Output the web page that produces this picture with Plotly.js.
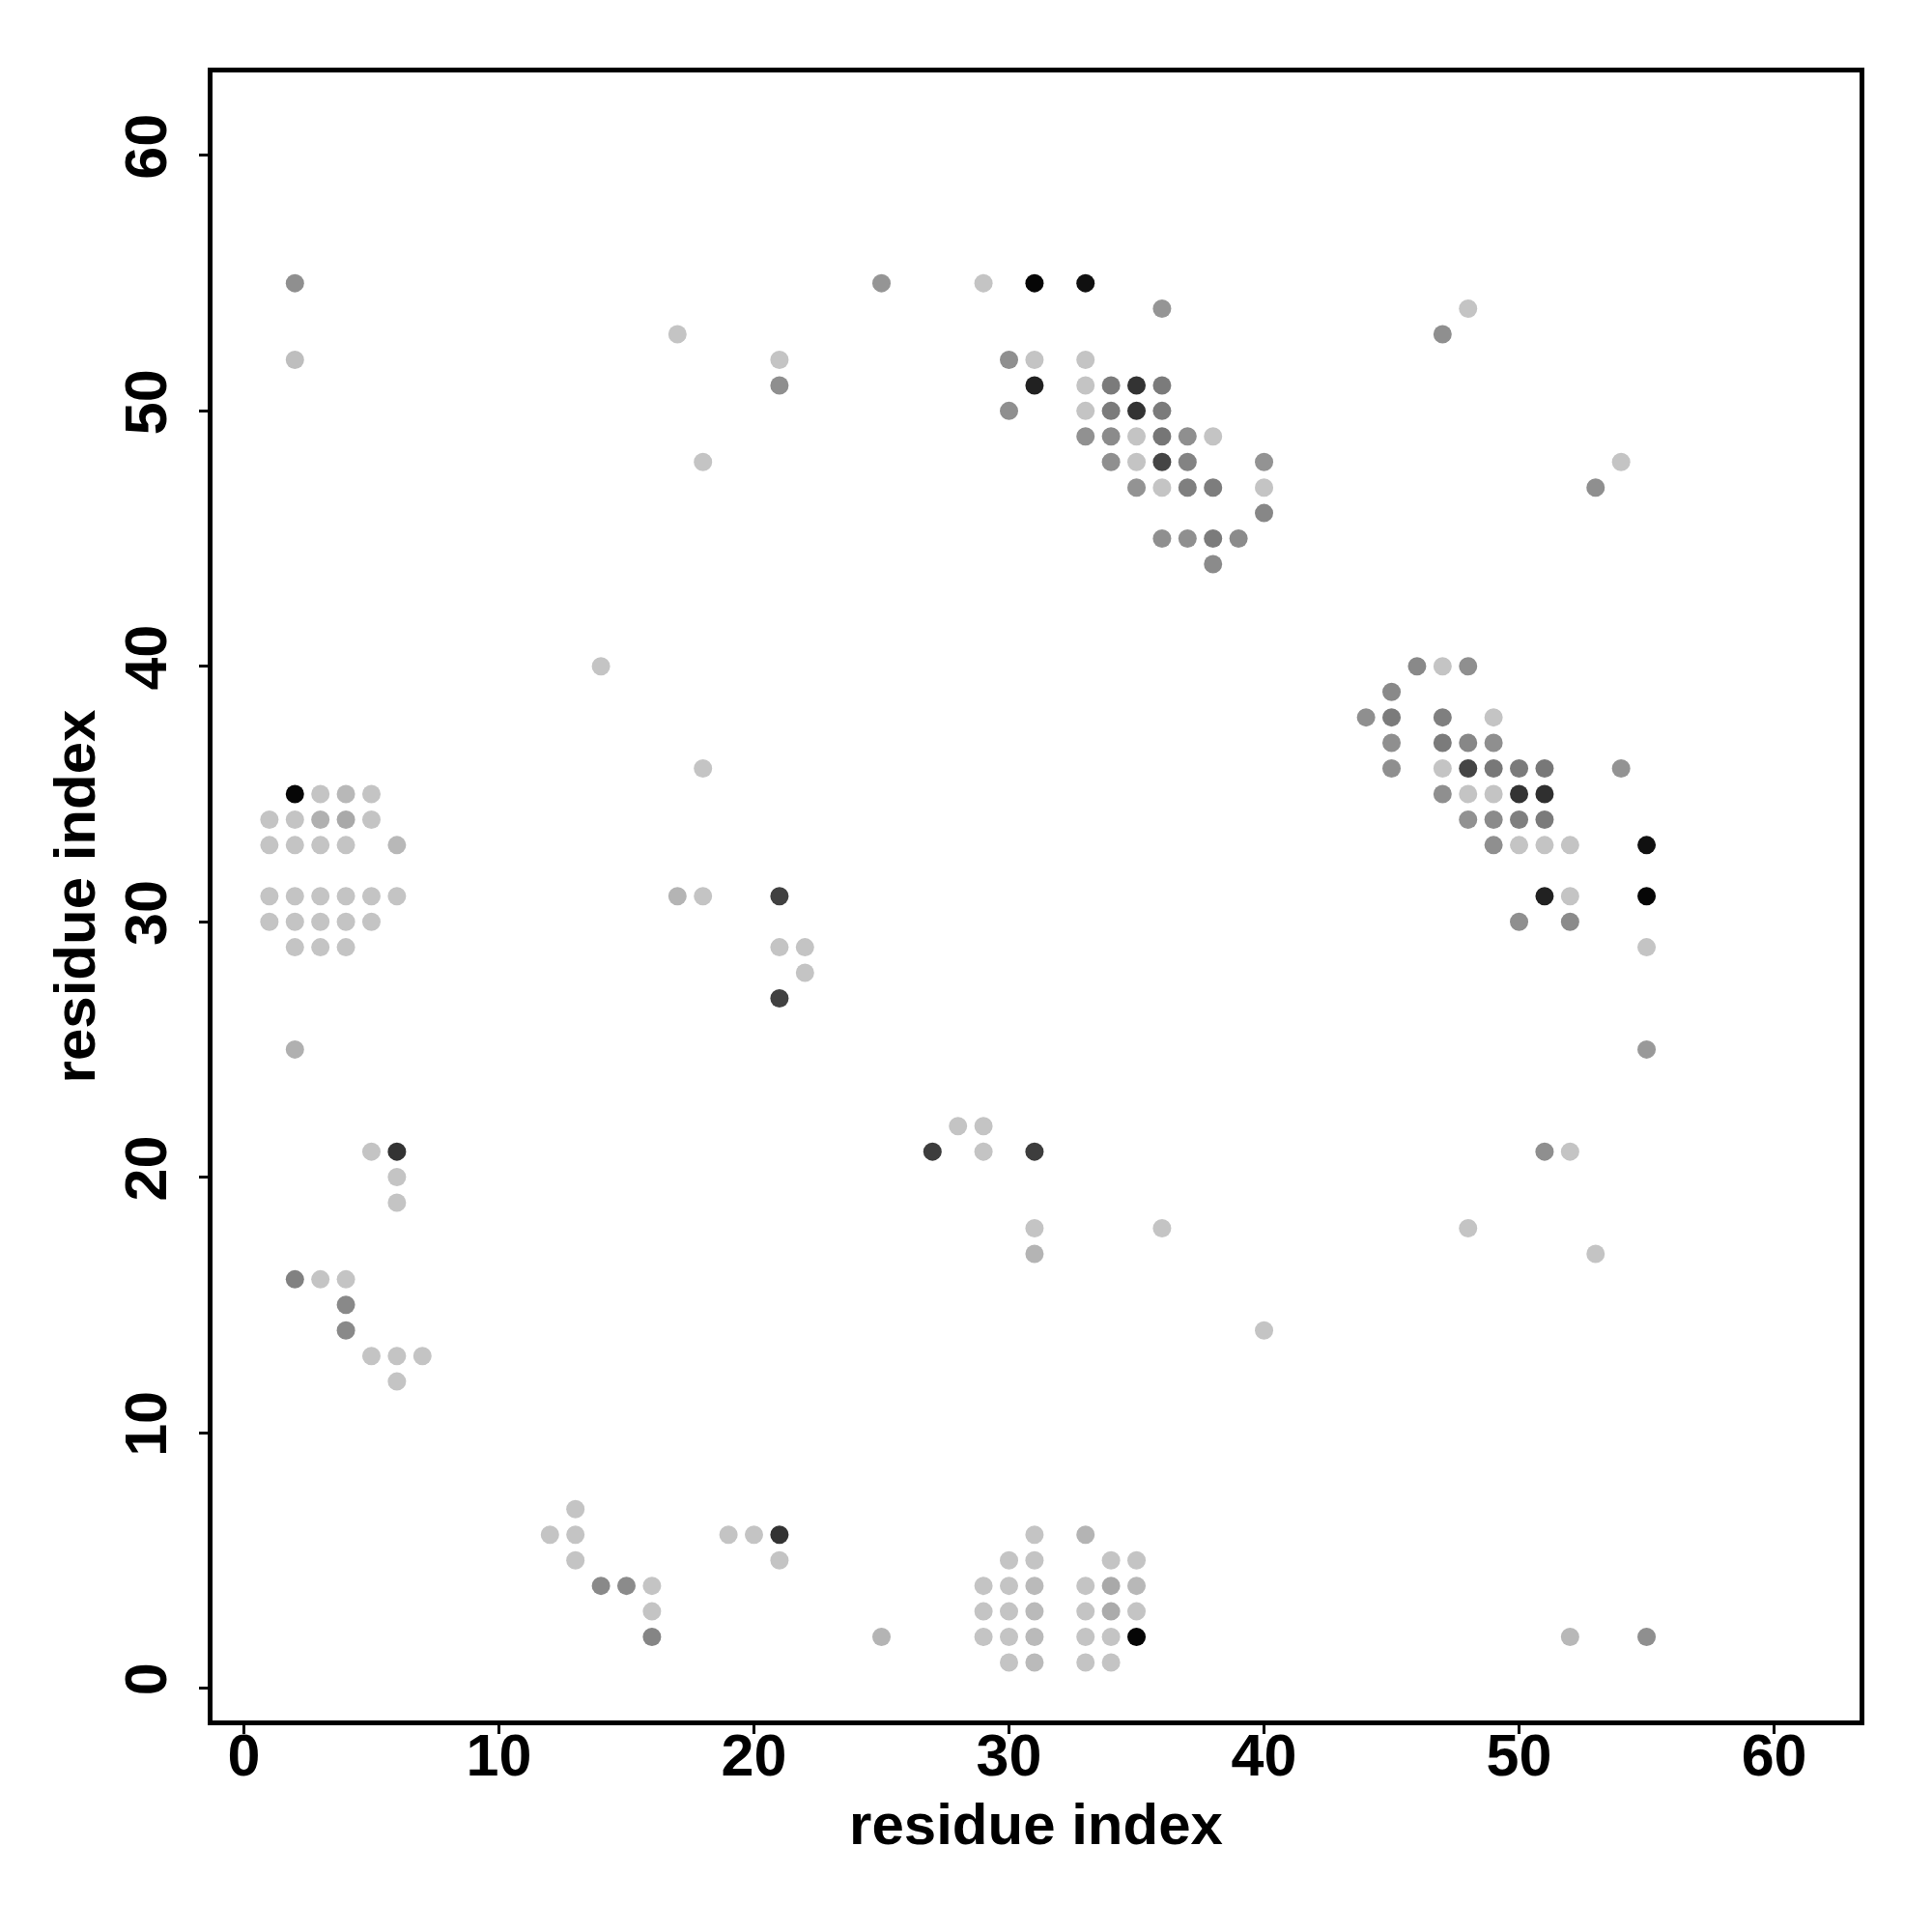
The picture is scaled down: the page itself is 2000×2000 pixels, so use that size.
<!DOCTYPE html>
<html>
<head>
<meta charset="utf-8">
<script src="https://cdn.plot.ly/plotly-3.0.1.min.js"></script>
<style>html,body{margin:0;padding:0;background:#fff;}#chart{width:2000px;height:2000px;}</style>
</head>
<body>
<div id="chart"></div>
<script>
// residue i (x), residue j (y), contact score (0 = weak/light grey, 1 = strong/black)
const resI = [
  2,25,29,31,33,            // j=55
  36,48,                    // j=54
  17,47,                    // j=53
  2,21,30,31,33,            // j=52
  21,31,33,34,35,36,        // j=51
  30,33,34,35,36,           // j=50
  33,34,35,36,37,38,        // j=49
  18,34,35,36,37,40,54,     // j=48
  35,36,37,38,40,53,        // j=47
  40,                       // j=46
  36,37,38,39,              // j=45
  38,                       // j=44
  14,46,47,48,              // j=40
  45,                       // j=39
  44,45,47,49,              // j=38
  45,47,48,49,              // j=37
  18,45,47,48,49,50,51,54,  // j=36
  2,3,4,5,47,48,49,50,51,   // j=35
  1,2,3,4,5,48,49,50,51,    // j=34
  1,2,3,4,6,49,50,51,52,55, // j=33
  1,2,3,4,5,6,17,18,21,51,52,55, // j=31
  1,2,3,4,5,50,52,          // j=30
  2,3,4,21,22,55,           // j=29
  22,                       // j=28
  21,                       // j=27
  2,55,                     // j=25
  28,29,                    // j=22
  5,6,27,29,31,51,52,       // j=21
  6,                        // j=20
  6,                        // j=19
  31,36,48,                 // j=18
  31,53,                    // j=17
  2,3,4,                    // j=16
  4,                        // j=15
  4,40,                     // j=14
  5,6,7,                    // j=13
  6,                        // j=12
  13,                       // j=7
  12,13,19,20,21,31,33,     // j=6
  13,21,30,31,34,35,        // j=5
  14,15,16,29,30,31,33,34,35, // j=4
  16,29,30,31,33,34,35,     // j=3
  16,25,29,30,31,33,34,35,52,55, // j=2
  30,31,33,34               // j=1
];
const resJ = [
  55,55,55,55,55,
  54,54,
  53,53,
  52,52,52,52,52,
  51,51,51,51,51,51,
  50,50,50,50,50,
  49,49,49,49,49,49,
  48,48,48,48,48,48,48,
  47,47,47,47,47,47,
  46,
  45,45,45,45,
  44,
  40,40,40,40,
  39,
  38,38,38,38,
  37,37,37,37,
  36,36,36,36,36,36,36,36,
  35,35,35,35,35,35,35,35,35,
  34,34,34,34,34,34,34,34,34,
  33,33,33,33,33,33,33,33,33,33,
  31,31,31,31,31,31,31,31,31,31,31,31,
  30,30,30,30,30,30,30,
  29,29,29,29,29,29,
  28,
  27,
  25,25,
  22,22,
  21,21,21,21,21,21,21,
  20,
  19,
  18,18,18,
  17,17,
  16,16,16,
  15,
  14,14,
  13,13,13,
  12,
  7,
  6,6,6,6,6,6,6,
  5,5,5,5,5,5,
  4,4,4,4,4,4,4,4,4,
  3,3,3,3,3,3,3,
  2,2,2,2,2,2,2,2,2,2,
  1,1,1,1
];
const contactScore = [
  0.27,0.24,0.00,0.97,0.92,
  0.24,0.00,
  0.00,0.27,
  0.03,0.00,0.27,0.00,0.00,
  0.27,0.83,0.00,0.37,0.74,0.37,
  0.27,0.00,0.37,0.74,0.37,
  0.26,0.29,0.00,0.40,0.27,0.00,
  0.00,0.27,0.00,0.65,0.33,0.25,0.00,
  0.25,0.00,0.35,0.36,0.00,0.27,
  0.31,
  0.27,0.27,0.37,0.29,
  0.29,
  0.00,0.30,0.00,0.27,
  0.30,
  0.27,0.37,0.35,0.00,
  0.27,0.37,0.31,0.27,
  0.00,0.27,0.00,0.65,0.39,0.37,0.39,0.25,
  0.97,0.00,0.06,0.00,0.27,0.00,0.00,0.74,0.76,
  0.00,0.00,0.10,0.14,0.00,0.26,0.29,0.35,0.37,
  0.00,0.00,0.00,0.00,0.06,0.27,0.00,0.00,0.00,0.92,
  0.00,0.00,0.00,0.00,0.00,0.00,0.08,0.00,0.67,0.83,0.00,0.97,
  0.00,0.00,0.00,0.00,0.00,0.27,0.29,
  0.00,0.00,0.00,0.00,0.00,0.00,
  0.00,
  0.67,
  0.10,0.22,
  0.00,0.00,
  0.00,0.74,0.69,0.00,0.69,0.27,0.00,
  0.00,
  0.00,
  0.00,0.00,0.00,
  0.08,0.00,
  0.34,0.00,0.00,
  0.30,
  0.30,0.00,
  0.00,0.00,0.00,
  0.00,
  0.00,
  0.00,0.00,0.00,0.00,0.74,0.00,0.08,
  0.00,0.00,0.00,0.00,0.00,0.00,
  0.30,0.29,0.00,0.00,0.00,0.05,0.00,0.14,0.06,
  0.00,0.00,0.00,0.05,0.00,0.13,0.00,
  0.32,0.08,0.00,0.00,0.05,0.00,0.00,0.97,0.06,0.27,
  0.00,0.05,0.00,0.00
];
const tickValues = [0, 10, 20, 30, 40, 50, 60];
const tickLabels = ['0', '10', '20', '30', '40', '50', '60'];
const axisTitle = 'residue index';

const tickFont = {family: 'Liberation Sans, Arial, Helvetica, sans-serif', size: 61, color: '#000', weight: 'bold'};
const titleFont = {family: 'Liberation Sans, Arial, Helvetica, sans-serif', size: 60, color: '#000', weight: 'bold'};

const trace = {
  type: 'scatter',
  mode: 'markers',
  x: resI,
  y: resJ,
  marker: {
    size: 19,
    color: contactScore,
    cmin: 0,
    cmax: 1,
    colorscale: [[0, 'rgb(196,196,196)'], [1, 'rgb(0,0,0)']],
    showscale: false,
    line: {width: 0}
  },
  hoverinfo: 'x+y'
};

const axisCommon = {
  tickmode: 'array',
  tickvals: tickValues,
  ticktext: tickLabels,
  ticks: 'outside',
  ticklen: 9,
  tickwidth: 3,
  tickcolor: '#000',
  showline: true,
  mirror: true,
  linewidth: 5,
  linecolor: '#000',
  showgrid: false,
  zeroline: false,
  tickfont: tickFont,
  fixedrange: true
};

const layout = {
  width: 2000,
  height: 2000,
  margin: {l: 220, r: 75, t: 75, b: 219},
  paper_bgcolor: '#fff',
  plot_bgcolor: '#fff',
  showlegend: false,
  xaxis: Object.assign({}, axisCommon, {
    range: [-1.23, 63.35],
    ticklabelstandoff: -30,
    title: {text: axisTitle, font: titleFont, standoff: 18}
  }),
  yaxis: Object.assign({}, axisCommon, {
    range: [-1.27, 63.25],
    tickangle: -90,
    ticklabelstandoff: 10,
    title: {text: axisTitle, font: titleFont, standoff: 0}
  })
};

Plotly.newPlot('chart', [trace], layout, {displayModeBar: false, staticPlot: true});
</script>
</body>
</html>
